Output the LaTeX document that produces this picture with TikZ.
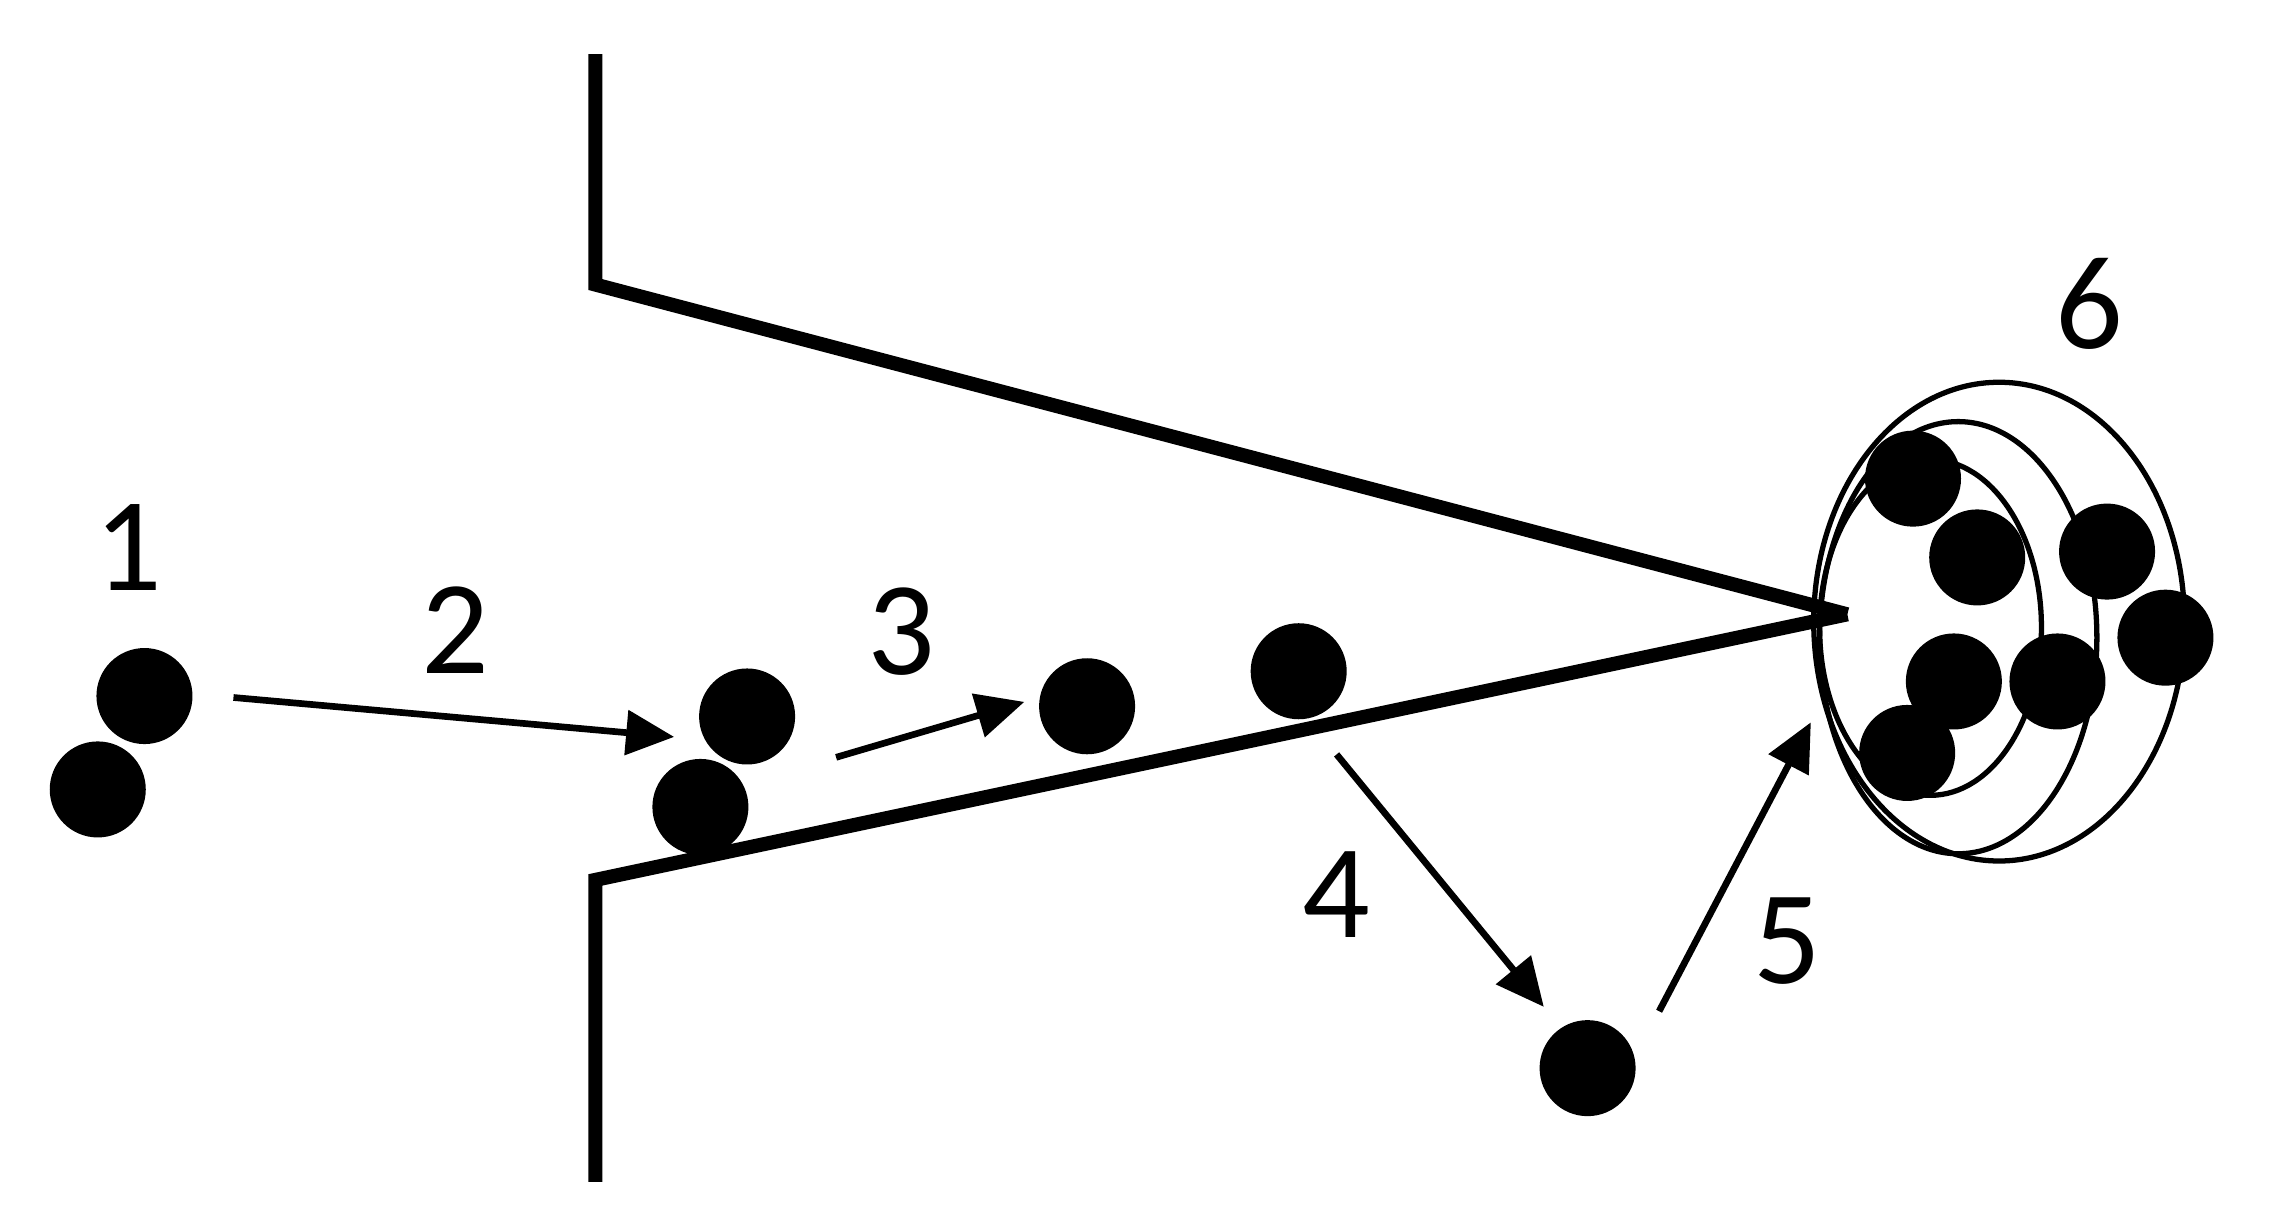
\documentclass[tikz,border=0pt]{standalone}
\usepackage{fontspec}
\setmainfont{Carlito}
\usetikzlibrary{arrows.meta,shapes.geometric}
\tikzset{
  ball/.style ={circle, fill=black, inner sep=0pt, minimum size=9.6mm},
  lbl/.style  ={font=\fontsize{38}{40}\selectfont, inner sep=0pt},
  wall/.style ={line width=4pt, line cap=butt},
  shell/.style={line width=1.5pt},
  fl/.style   ={-{Triangle[length=4.8mm,width=4.4mm]}, line width=1.9pt},
}

\begin{document}
\begin{tikzpicture}[x=0.014592cm, y=-0.014592cm]
  \useasboundingbox (0,0) rectangle (1568,842);

  % ---------------- nozzle walls -----------------
  \coordinate (wTop)  at (408,37);
  \coordinate (wUp)   at (408,195);
  \coordinate (wLow)  at (408,603);
  \coordinate (wBot)  at (408,810);
  \coordinate (tip)   at (1266,421);
  \draw[wall] (wTop) -- (wUp) -- (tip);
  \draw[wall] (wBot) -- (wLow) -- (tip);

  % ---------------- deposit (6) -----------------
  \draw[shell] (1370,426) ellipse [x radius=1.853cm, y radius=2.393cm];
  \draw[shell] (1342,437) ellipse [x radius=1.386cm, y radius=2.160cm];
  \draw[shell] (1323,430) ellipse [x radius=1.109cm, y radius=1.678cm];

  % ---------------- particles -----------------
  \node[ball] (p1a) at (99,477) {};
  \node[ball] (p1b) at (67,541) {};
  \node[ball] (p2a) at (512,491) {};
  \node[ball] (p2b) at (480,553) {};
  \node[ball] (p3)  at (745,484) {};
  \node[ball] (p4)  at (890,460) {};
  \node[ball] (p5)  at (1088,732) {};
  \node[ball] (d1)  at (1311,328) {};
  \node[ball] (d2)  at (1355,382) {};
  \node[ball] (d3)  at (1444,378) {};
  \node[ball] (d4)  at (1484,437) {};
  \node[ball] (d5)  at (1339,467) {};
  \node[ball] (d6)  at (1410,467) {};
  \node[ball] (d7)  at (1307,516) {};

  % ---------------- step labels -----------------
  \node[lbl] (s1) at (88,375)   {1};
  \node[lbl] (s2) at (312,432)  {2};
  \node[lbl] (s3) at (618,433)  {3};
  \node[lbl] (s4) at (916,613)  {4};
  \node[lbl] (s5) at (1225,645) {5};
  \node[lbl] (s6) at (1432,208) {6};

  % ---- arrows ----
  \coordinate (a2s) at (160,478);  \coordinate (a2e) at (462,505);
  \coordinate (a3s) at (573,519);  \coordinate (a3e) at (702,481);
  \coordinate (a4s) at (916,517);  \coordinate (a4e) at (1058,690);
  \coordinate (a5s) at (1137,693); \coordinate (a5e) at (1241,495);
  \draw[fl] (a2s) -- (a2e);
  \draw[fl] (a3s) -- (a3e);
  \draw[fl] (a4s) -- (a4e);
  \draw[fl] (a5s) -- (a5e);
\end{tikzpicture}
\end{document}
